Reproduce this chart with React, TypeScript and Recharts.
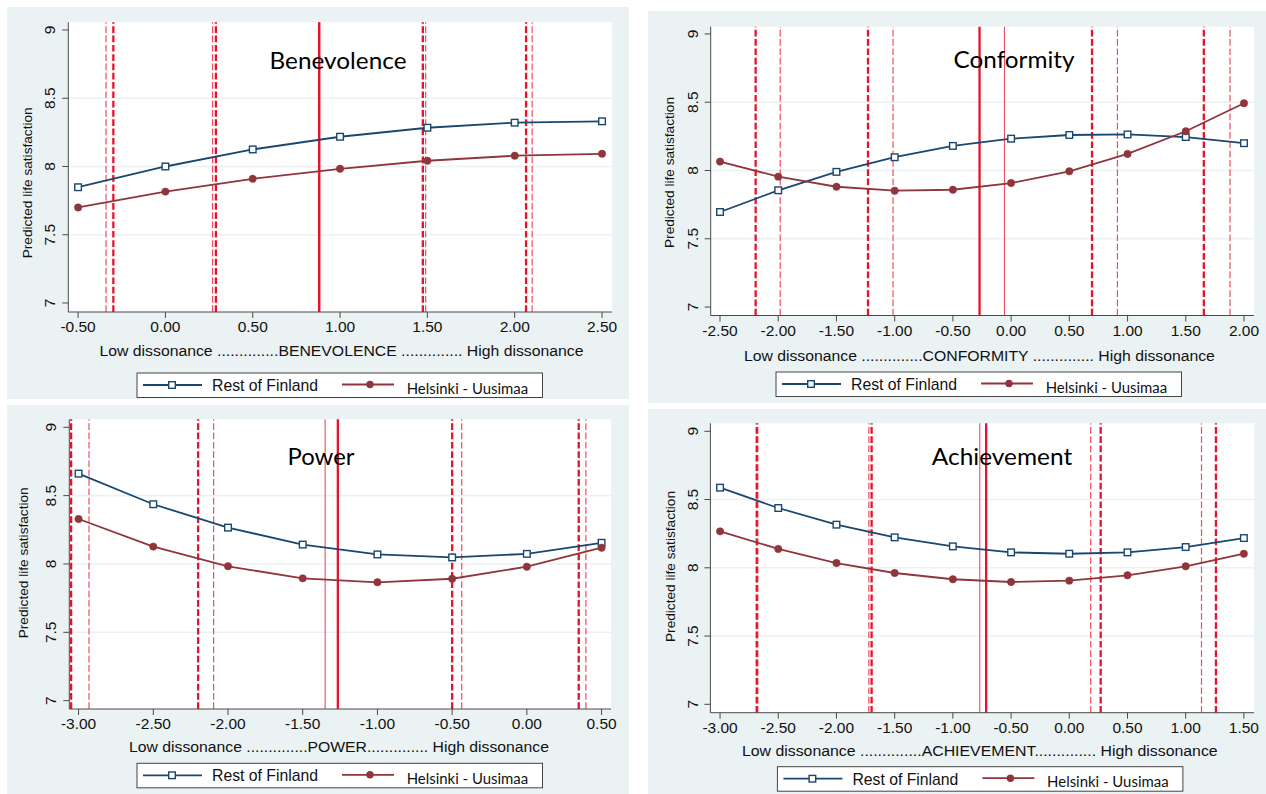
import React from 'react';
import { LineChart, Line, XAxis, YAxis, ReferenceLine, CartesianGrid } from 'recharts';

// ---------------- Data ----------------
const benevolenceX = [-0.5, 0, 0.5, 1, 1.5, 2, 2.5];
const benevolenceRest = [7.848, 8.0, 8.125, 8.218, 8.284, 8.321, 8.331];
const benevolenceHelsinki = [7.7, 7.816, 7.91, 7.983, 8.042, 8.079, 8.093];

const conformityX = [-2.5, -2, -1.5, -1, -0.5, 0, 0.5, 1, 1.5, 2];
const conformityRest = [7.696, 7.855, 7.99, 8.097, 8.18, 8.233, 8.26, 8.264, 8.245, 8.2];
const conformityHelsinki = [8.065, 7.955, 7.881, 7.852, 7.859, 7.908, 7.994, 8.121, 8.287, 8.492];

const powerX = [-3, -2.5, -2, -1.5, -1, -0.5, 0, 0.5];
const powerRest = [8.661, 8.437, 8.266, 8.142, 8.07, 8.048, 8.074, 8.155];
const powerHelsinki = [8.329, 8.127, 7.983, 7.895, 7.866, 7.892, 7.98, 8.119];

const achievementX = [-3, -2.5, -2, -1.5, -1, -0.5, 0, 0.5, 1, 1.5];
const achievementRest = [8.587, 8.438, 8.316, 8.223, 8.157, 8.113, 8.103, 8.113, 8.152, 8.218];
const achievementHelsinki = [8.267, 8.138, 8.035, 7.962, 7.916, 7.896, 7.906, 7.945, 8.011, 8.103];

// vertical reference lines (x positions)
const benevolenceThickDashed = [-0.298, 0.289, 1.474, 2.065];
const benevolenceThinDashed = [-0.34, 0.27, 1.49, 2.1];
const benevolenceThickSolid = [0.88];
const benevolenceThinSolid = [0.884];

const conformityThickDashed = [-2.194, -1.229, 0.695, 1.655];
const conformityThinDashed = [-1.983, -1.014, 0.913, 1.88];
const conformityThickSolid = [-0.271];
const conformityThinSolid = [-0.057];

const powerThickDashed = [-3.05, -2.2, -0.5, 0.347];
const powerThinDashed = [-2.93, -2.096, -0.436, 0.395];
const powerThickSolid = [-1.265];
const powerThinSolid = [-1.35];

const achievementThickDashed = [-2.685, -1.698, 0.27, 1.26];
const achievementThinDashed = [-2.675, -1.722, 0.184, 1.136];
const achievementThickSolid = [-0.714];
const achievementThinSolid = [-0.769];

// ticks
const yTicks = [7, 7.5, 8, 8.5, 9];
const yGrid = [7.5, 8, 8.5];
const benevolenceTicks = [-0.5, 0, 0.5, 1, 1.5, 2, 2.5];
const conformityTicks = [-2.5, -2, -1.5, -1, -0.5, 0, 0.5, 1, 1.5, 2];
const powerTicks = [-3, -2.5, -2, -1.5, -1, -0.5, 0, 0.5];
const achievementTicks = [-3, -2.5, -2, -1.5, -1, -0.5, 0, 0.5, 1, 1.5];

// texts
const titles = ['Benevolence', 'Conformity', 'Power', 'Achievement'];
const xLabels = [
  'Low dissonance ..............BENEVOLENCE .............. High dissonance',
  'Low dissonance ..............CONFORMITY .............. High dissonance',
  'Low dissonance ..............POWER.............. High dissonance',
  'Low dissonance ..............ACHIEVEMENT.............. High dissonance',
];
const yLabel = 'Predicted life satisfaction';
const seriesNames = ['Rest of Finland', 'Helsinki - Uusimaa'];

// ---------------- Styles ----------------
const BG = '#eaf2f3';
const BLUE = '#1a476f';
const MAROON = '#90353b';
const RED = '#e5132c';
const RED_THIN = '#ee4f60';
const AXIS = '#4a4a4a';
const SANS = '"Liberation Sans", Arial, sans-serif';
const CAL = 'Lato, "Open Sans", sans-serif';
const XAXIS_H = 30;

const build = (xs: number[], a: number[], b: number[]) =>
  xs.map((x, i) => ({ x, rest: a[i], hel: b[i] }));

const panels = [
  {
    panel: { x: 7, y: 7, w: 622, h: 392 },
    plot: { l: 68.3, t: 22.3, r: 612, b: 312 },
    xDomain: [-0.556, 2.557], yDomain: [6.934, 9.0564],
    xTicks: benevolenceTicks,
    data: build(benevolenceX, benevolenceRest, benevolenceHelsinki),
    thickDashed: benevolenceThickDashed, thinDashed: benevolenceThinDashed,
    thickSolid: benevolenceThickSolid, thinSolid: benevolenceThinSolid,
    title: { cx: 338, by: 69, len: 137 },
    xl: { cx: 341.5, by: 356, len: 484 },
    yl: { bx: 32, cy: 182.8 },
    legend: { x: 137, y: 373 },
  },
  {
    panel: { x: 648, y: 11, w: 618, h: 392 },
    plot: { l: 710.7, t: 26.7, r: 1254, b: 315.5 },
    xDomain: [-2.58, 2.086], yDomain: [6.938, 9.053],
    xTicks: conformityTicks,
    data: build(conformityX, conformityRest, conformityHelsinki),
    thickDashed: conformityThickDashed, thinDashed: conformityThinDashed,
    thickSolid: conformityThickSolid, thinSolid: conformityThinSolid,
    title: { cx: 1014, by: 68.3, len: 121 },
    xl: { cx: 979.4, by: 361.3, len: 471 },
    yl: { bx: 673.5, cy: 172.5 },
    legend: { x: 776, y: 372 },
  },
  {
    panel: { x: 7, y: 405, w: 622, h: 389 },
    plot: { l: 69.3, t: 419.3, r: 611, b: 709 },
    xDomain: [-3.062, 0.563], yDomain: [6.939, 9.0585],
    xTicks: powerTicks,
    data: build(powerX, powerRest, powerHelsinki),
    thickDashed: powerThickDashed, thinDashed: powerThinDashed,
    thickSolid: powerThickSolid, thinSolid: powerThinSolid,
    title: { cx: 321, by: 465, len: 67 },
    xl: { cx: 339, by: 752.3, len: 420 },
    yl: { bx: 28.5, cy: 562.8 },
    legend: { x: 137, y: 763.3 },
  },
  {
    panel: { x: 648, y: 409, w: 618, h: 385 },
    plot: { l: 710.4, t: 423.3, r: 1254, b: 712.7 },
    xDomain: [-3.083, 1.587], yDomain: [6.9385, 9.0586],
    xTicks: achievementTicks,
    data: build(achievementX, achievementRest, achievementHelsinki),
    thickDashed: achievementThickDashed, thinDashed: achievementThinDashed,
    thickSolid: achievementThickSolid, thinSolid: achievementThinSolid,
    title: { cx: 1002, by: 465, len: 140.5 },
    xl: { cx: 979.8, by: 755.6, len: 475.8 },
    yl: { bx: 674.5, cy: 566.5 },
    legend: { x: 777.4, y: 766.7 },
  },
];

const SquareDot = (p: any) => {
  if (p.cx == null || p.cy == null) return null;
  return (
    <rect key={`sq-${p.index}`} x={p.cx - 3.3} y={p.cy - 3.3} width={6.6} height={6.6}
      fill="#fff" stroke={BLUE} strokeWidth={1.4} />
  );
};

const Panel = ({ cfg, idx }: { cfg: any; idx: number }) => {
  const { panel, plot } = cfg;
  const yW = plot.l - panel.x;
  const margin = {
    top: plot.t - panel.y,
    right: panel.x + panel.w - plot.r,
    left: 0,
    bottom: panel.y + panel.h - plot.b - XAXIS_H,
  };
  const bx = yW - 12.8;
  const YTick = (p: any) => (
    <text x={bx} y={p.y} transform={`rotate(-90 ${bx} ${p.y})`} textAnchor="middle"
      fontSize={15.5} fontFamily={SANS} fill="#111">{String(p.payload.value)}</text>
  );
  return (
    <div style={{ position: 'absolute', left: panel.x, top: panel.y, width: panel.w, height: panel.h, background: BG }}>
      <LineChart width={panel.w} height={panel.h} data={cfg.data} margin={margin}>
        <CartesianGrid fill="#fff" horizontal={false} vertical={false} />
        <XAxis type="number" dataKey="x" domain={cfg.xDomain} ticks={cfg.xTicks} allowDataOverflow
          interval={0} height={XAXIS_H} stroke={AXIS} tickMargin={3}
          tick={{ fontSize: 15.5, fontFamily: SANS, fill: '#111' }}
          tickFormatter={(v: number) => v.toFixed(2)} />
        <YAxis type="number" domain={cfg.yDomain} ticks={yTicks} allowDataOverflow interval={0}
          width={yW} stroke={AXIS} tick={YTick} />
        {yGrid.map((v) => (
          <ReferenceLine key={`g${v}`} y={v} stroke={BG} strokeWidth={1.6} />
        ))}
        {cfg.thinDashed.map((v: number, i: number) => (
          <ReferenceLine key={`td${i}`} x={v} stroke={RED_THIN} strokeWidth={1.2} strokeDasharray="6.7 2.6" />
        ))}
        {cfg.thickDashed.map((v: number, i: number) => (
          <ReferenceLine key={`kd${i}`} x={v} stroke={RED} strokeWidth={2.3} strokeDasharray="6.7 2.6" />
        ))}
        {cfg.thinSolid.map((v: number, i: number) => (
          <ReferenceLine key={`ts${i}`} x={v} stroke={RED_THIN} strokeWidth={1.1} />
        ))}
        {cfg.thickSolid.map((v: number, i: number) => (
          <ReferenceLine key={`ks${i}`} x={v} stroke={RED} strokeWidth={2.3} />
        ))}
        <Line type="linear" dataKey="rest" name={seriesNames[0]} stroke={BLUE} strokeWidth={1.8}
          dot={SquareDot} activeDot={false} isAnimationActive={false} />
        <Line type="linear" dataKey="hel" name={seriesNames[1]} stroke={MAROON} strokeWidth={1.8}
          dot={{ r: 3.7, fill: MAROON, stroke: MAROON, strokeWidth: 0.5 }} activeDot={false}
          isAnimationActive={false} />
      </LineChart>
    </div>
  );
};

const Texts = () => (
  <svg width={1266} height={794} style={{ position: 'absolute', left: 0, top: 0, pointerEvents: 'none' }}>
    {panels.map((c, i) => {
      const lg = c.legend;
      return (
        <g key={`t${i}`}>
          <text x={c.title.cx} y={c.title.by} textAnchor="middle" fontFamily={CAL} fontSize={23.5}
            fill="#000" textLength={c.title.len} lengthAdjust="spacingAndGlyphs">{titles[i]}</text>
          <text x={c.xl.cx} y={c.xl.by} textAnchor="middle" fontFamily={SANS} fontSize={15.5}
            fill="#111" textLength={c.xl.len} lengthAdjust="spacingAndGlyphs">{xLabels[i]}</text>
          <text x={c.yl.bx} y={c.yl.cy} transform={`rotate(-90 ${c.yl.bx} ${c.yl.cy})`} textAnchor="middle"
            fontFamily={SANS} fontSize={13.7} fill="#111" textLength={151}
            lengthAdjust="spacingAndGlyphs">{yLabel}</text>
          <rect x={lg.x} y={lg.y} width={405.5} height={24.5} fill="#fff" stroke="#444" strokeWidth={1} />
          <line x1={lg.x + 6} x2={lg.x + 65} y1={lg.y + 12} y2={lg.y + 12} stroke={BLUE} strokeWidth={1.8} />
          <rect x={lg.x + 35 - 3.3} y={lg.y + 12 - 3.3} width={6.6} height={6.6} fill="#fff" stroke={BLUE} strokeWidth={1.4} />
          <text x={lg.x + 75} y={lg.y + 17.8} fontFamily={SANS} fontSize={15.7} fill="#111"
            textLength={106} lengthAdjust="spacingAndGlyphs">{seriesNames[0]}</text>
          <line x1={lg.x + 205} x2={lg.x + 257} y1={lg.y + 11.5} y2={lg.y + 11.5} stroke={MAROON} strokeWidth={1.8} />
          <circle cx={lg.x + 233} cy={lg.y + 11.5} r={3.7} fill={MAROON} />
          <text x={lg.x + 269.7} y={lg.y + 20.5} fontFamily={CAL} fontSize={15.5} fill="#111"
            textLength={121.5} lengthAdjust="spacingAndGlyphs">{seriesNames[1]}</text>
        </g>
      );
    })}
  </svg>
);

export default function App() {
  return (
    <div style={{ position: 'absolute', left: 0, top: 0, width: 1266, height: 794, background: '#fff', overflow: 'hidden' }}>
      {panels.map((c, i) => (
        <Panel key={i} cfg={c} idx={i} />
      ))}
      <Texts />
    </div>
  );
}
